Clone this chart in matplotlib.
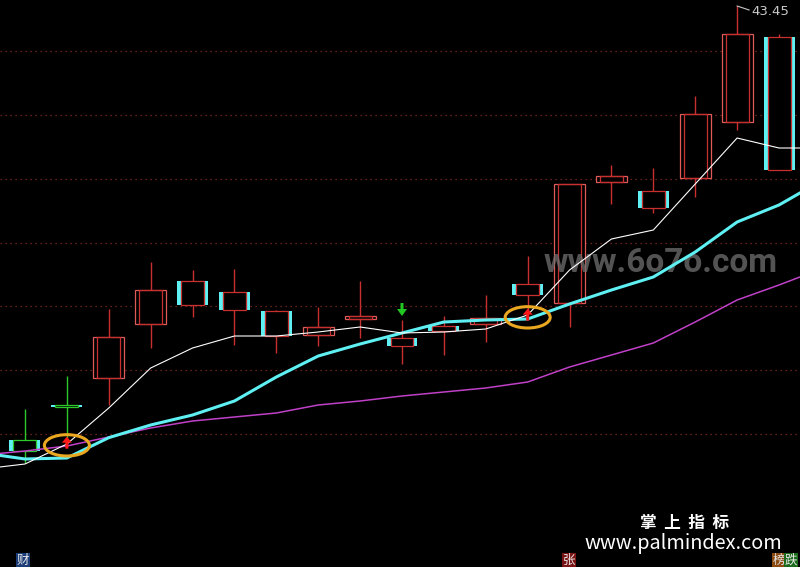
import matplotlib.pyplot as plt
from matplotlib.patches import Rectangle, Ellipse


# daily bars (price units)
opens = [30.43, 31.48, 32.29, 33.91, 35.20, 34.87, 34.30, 33.58, 34.06, 33.49,
         33.85, 33.91, 35.11, 34.54, 38.17, 37.90, 38.29, 39.97, 42.52]
highs = [31.36, 32.35, 34.36, 35.77, 35.53, 35.56, 34.33, 34.42, 35.20, 34.03,
         34.15, 34.78, 35.95, 38.11, 38.68, 38.59, 40.75, 43.45, 42.61]
lows = [29.74, 30.43, 31.48, 33.19, 34.12, 33.28, 33.04, 33.25, 33.49, 32.71,
        32.98, 33.37, 34.27, 33.82, 37.51, 37.24, 37.72, 39.73, 38.53]
closes = [30.10, 31.42, 33.52, 34.93, 34.48, 34.33, 33.55, 33.82, 34.15, 33.25,
          33.70, 34.09, 34.78, 38.11, 38.35, 37.39, 40.21, 42.61, 38.53]

# moving averages, from the day before the first bar to the day after the last
ma_days = list(range(-1, 20))
ma5 = [29.56, 29.71, 30.31, 31.39, 32.59, 33.19, 33.55, 33.55, 33.67, 33.82, 33.64,
       33.67, 33.76, 34.18, 35.53, 36.46, 36.73, 38.11, 39.49, 39.19, 39.19]
ma10 = [30.04, 29.86, 29.89, 30.50, 30.88, 31.18, 31.60, 32.32, 32.95, 33.31, 33.64,
        33.97, 34.03, 34.06, 34.51, 34.93, 35.32, 36.07, 36.97, 37.48, 38.20]
ma20 = [29.98, 30.10, 30.25, 30.52, 30.79, 31.00, 31.12, 31.24, 31.48, 31.60, 31.75,
        31.87, 31.99, 32.17, 32.62, 32.98, 33.34, 33.97, 34.63, 35.08, 35.56]

buy_days = [1, 12]
sell_days = [9]
high_label = "43.45"

RED = "#c83030"
RED_LIGHT = "#e05a5a"
GREEN = "#2cc82c"
CYAN = "#5ef0f2"
MAGENTA = "#c040c8"
ORANGE = "#eaa820"
GRID = "#8a2a22"

PX = 41.89          # pixels per bar
YPX = 0.03          # price per pixel
body_w = 31 / PX
side_w = 4 / PX


def draw_candle(ax, i):
    o, h, l, c = opens[i], highs[i], lows[i], closes[i]
    top, bot = max(o, c), min(o, c)
    edge = GREEN if i < 2 else RED
    ax.vlines(i, l, h, color=edge, lw=1.0, zorder=2)
    left = i - body_w / 2
    hgt = max(top - bot, 0.04)
    if c >= o:
        ax.add_patch(Rectangle((left, bot), body_w, hgt, facecolor="black",
                               edgecolor=RED_LIGHT, lw=0.9, zorder=3))
        ax.add_patch(Rectangle((left + side_w, bot), body_w - 2 * side_w, hgt,
                               fill=False, edgecolor=edge, lw=0.9, zorder=3))
    else:
        ax.add_patch(Rectangle((left, bot), side_w, hgt, color=CYAN, lw=0, zorder=3))
        ax.add_patch(Rectangle((left + body_w - side_w, bot), side_w, hgt,
                               color=CYAN, lw=0, zorder=3))
        ax.add_patch(Rectangle((left + side_w, bot), body_w - 2 * side_w, hgt,
                               facecolor="black", edgecolor=edge, lw=0.9, zorder=3))


fig = plt.figure(figsize=(8, 5.67), dpi=100)
fig.patch.set_facecolor("black")
ax = fig.add_axes([0, 0, 1, 1])
ax.set_facecolor("black")
ax.set_xlim(-25 / PX, 18 + 21 / PX)
ax.set_ylim(43.63 - 567 * YPX, 43.63)
ax.axis("off")

# dotted price grid
for k in range(7):
    ax.axhline(42.10 - k * 1.915, color=GRID, lw=0.9, ls=(0, (1, 3)), zorder=1)

for i in range(len(opens)):
    draw_candle(ax, i)

ax.text(661 / 800, 1 - 263 / 567, "www.6o7o.com", transform=ax.transAxes,
        ha="center", va="center", fontsize=24, fontweight="bold",
        family="Roboto", color="#707070", alpha=0.75, zorder=4)

ax.plot(ma_days, ma20, color=MAGENTA, lw=1.1, zorder=5)
ax.plot(ma_days, ma10, color=CYAN, lw=2.2, zorder=6)
ax.plot(ma_days, ma5, color="white", lw=0.8, zorder=7)

# buy / sell signals
for d in buy_days:
    tip = lows[d] + 0.1
    ax.arrow(d, tip - 0.36, 0, 0.18, width=3 / PX, head_width=10 / PX,
             head_length=0.18, color="#ff1a1a", lw=0, zorder=8)
    ax.add_patch(Ellipse((d, tip - 0.26), 45 / PX, 0.64, fill=False,
                         edgecolor=ORANGE, lw=2.2, zorder=9))
for d in sell_days:
    tip = highs[d] + 0.12
    ax.arrow(d, tip + 0.39, 0, -0.18, width=3 / PX, head_width=10 / PX,
             head_length=0.21, color="#22c822", lw=0, zorder=8)

# highest price marker
top_day = highs.index(max(highs))
ax.plot([top_day, top_day + 12 / PX], [max(highs), max(highs) - 4 * YPX],
        color="#c8c8c8", lw=0.8, zorder=8)
ax.text(top_day + 14 / PX, max(highs) - 5 * YPX, high_label, color="#c8c8c8",
        fontsize=9.5, ha="left", va="center", zorder=8)

cjk = ["Noto Sans CJK SC", "DejaVu Sans"]
fig.text(685 / 800, 1 - 523 / 567, "掌  上  指  标", family=cjk, color="white",
         fontsize=12, fontweight="bold", ha="center", va="center")
fig.text(683 / 800, 1 - 544 / 567, "www.palmindex.com", family=cjk, color="white",
         fontsize=14.3, ha="center", va="center")

tag = dict(family=cjk, color="#e8e8e8", fontsize=9, ha="center", va="bottom")
fig.text(23 / 800, 0.0, "财", bbox=dict(facecolor="#1c3c78", lw=0, pad=0.6), **tag)
fig.text(569 / 800, 0.0, "张", bbox=dict(facecolor="#7a1414", lw=0, pad=0.6), **tag)
fig.text(779 / 800, 0.0, "榜", bbox=dict(facecolor="#8a4a10", lw=0, pad=0.6), **tag)
fig.text(791 / 800, 0.0, "跌", bbox=dict(facecolor="#1c6a1c", lw=0, pad=0.6), **tag)

fig.savefig("out.png", dpi=100, facecolor="black")
